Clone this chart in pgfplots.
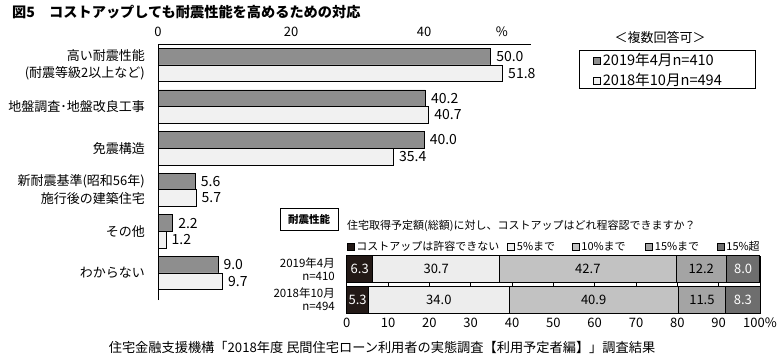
\documentclass[border=0pt]{standalone}
\usepackage{fontspec}
\setmainfont{Noto Sans CJK JP}
\usepackage{pgfplots}
\pgfplotsset{compat=1.18}
\definecolor{darkbar}{HTML}{8E8E8E}
\definecolor{lightbar}{HTML}{F1F1F1}
\definecolor{sA}{HTML}{231916}
\definecolor{sB}{HTML}{EDEDED}
\definecolor{sC}{HTML}{C2C2C2}
\definecolor{sD}{HTML}{A4A4A4}
\definecolor{sE}{HTML}{6E6E6E}
\begin{document}
\begin{tikzpicture}[x=1pt,y=1pt]
\useasboundingbox (0,0) rectangle (784,-358);
% title
\node[anchor=west, font=\bfseries\fontsize{14.2}{14.2}\selectfont, inner sep=0pt] at (12,-12) {図5　コストアップしても耐震性能を高めるための対応};
% main chart
\begin{axis}[
 at={(158pt,-300pt)}, anchor=south west,
 scale only axis, width=372.5pt, height=256pt,
 xmin=0, xmax=56, ymin=-5.65, ymax=0.505,
 axis line style={draw=none},
 clip=false,
 xtick={0,20,40}, xticklabels={0,20,40}, xticklabel pos=upper,
 major tick length=0pt,
 /pgf/number format/assume math mode=true,
 xticklabel style={anchor=base, yshift=7pt, inner sep=0pt, font=\fontsize{13}{13}\selectfont},
 ytick={0,-1,-2,-3,-4,-5},
 yticklabels={{高い耐震性能\\(耐震等級2以上など)},地盤調査･地盤改良工事,免震構造,{新耐震基準(昭和56年)\\施行後の建築住宅},その他,わからない},
 yticklabel style={align=right, anchor=east, inner sep=0pt, xshift=-13pt, font=\fontsize{13}{17.6}\selectfont},
 xbar, bar width=16.7pt, bar shift=0pt,
 point meta=x,
 nodes near coords={\pgfmathprintnumber[fixed,fixed zerofill,precision=1]{\pgfplotspointmeta}},
 nodes near coords style={anchor=west, xshift=2pt, font=\fontsize{14}{14}\selectfont},
 legend image code/.code={\draw[#1,draw=black,line width=0.6pt] (0pt,-3.5pt) rectangle (7pt,3.5pt);},
 legend style={at={(1.1678,0.8969)}, anchor=west, draw=none, fill=none, inner sep=0pt,
   font=\fontsize{14.6}{14.6}\selectfont, row sep=2pt},
 legend cell align=left,
]
\addplot[fill=darkbar, draw=black, line width=0.7pt] coordinates {
 (50.0,0.2) (40.2,-0.8) (40.0,-1.8) (5.6,-2.8) (2.2,-3.8) (9.0,-4.8)};
\addlegendentry{2019年4月n=410}
\addplot[fill=lightbar, draw=black, line width=0.7pt] coordinates {
 (51.8,-0.2) (40.7,-1.2) (35.4,-2.2) (5.7,-3.2) (1.2,-4.2) (9.7,-5.2)};
\addlegendentry{2018年10月n=494}
\draw[line width=0.7pt] (rel axis cs:0,0) -- (rel axis cs:0,1) -- (rel axis cs:1,1);
\node[anchor=base, inner sep=0pt, yshift=7pt, font=\fontsize{13}{13}\selectfont] at (axis cs:51.7,0.505) {\%};
\end{axis}
% legend frame and note
\draw[line width=0.7pt] (579,-50) rectangle (755,-88);
\node[font=\fontsize{13}{13}\selectfont, inner sep=0pt] at (660,-37) {＜複数回答可＞};
% inset header
\node[draw, line width=0.7pt, minimum width=58pt, minimum height=22pt, inner sep=0pt, font=\bfseries\fontsize{10.5}{10.5}\selectfont] at (309,-219) {耐震性能};
\node[anchor=west, inner sep=0pt, font=\fontsize{11}{11}\selectfont] at (347,-225.7) {住宅取得予定額(総額)に対し、コストアップはどれ程容認できますか？};
% inset stacked chart
\begin{axis}[
 at={(346.7pt,-313.3pt)}, anchor=south west,
 scale only axis, width=413.3pt, height=57.6pt,
 xmin=0, xmax=100, ymin=-0.445, ymax=1.43,
 xbar stacked, bar width=27pt,
 axis line style={draw=none}, clip=false,
 xtick={0,10,...,100}, xticklabels={0,10,20,30,40,50,60,70,80,90,100\%},
 xmajorgrids, grid style={black, line width=0.5pt},
 major tick length=0pt,
 xticklabel style={anchor=base, yshift=-14pt, inner sep=0pt, font=\fontsize{13}{13}\selectfont},
 ytick={0,1}, yticklabels={{2018年10月\\n=494},{2019年4月\\n=410}},
 yticklabel style={align=right, anchor=east, inner sep=0pt, xshift=-11.7pt, font=\fontsize{11.5}{13}\selectfont},
 legend image code/.code={\draw[#1,draw=black,line width=0.5pt] (0pt,-3.5pt) rectangle (7pt,3.5pt);},
 legend style={at={(0,1.156)}, anchor=west, draw=none, fill=none, inner sep=0pt,
   font=\fontsize{11}{11}\selectfont, legend columns=-1},
]
\addplot[fill=sA, draw=black, line width=0.7pt] coordinates {(6.3,1) (5.3,0)};
\addlegendentry{\makebox[149pt][l]{コストアップは許容できない}}
\addplot[fill=sB, draw=black, line width=0.7pt] coordinates {(30.7,1) (34.0,0)};
\addlegendentry{\makebox[53pt][l]{5\%まで}}
\addplot[fill=sC, draw=black, line width=0.7pt] coordinates {(42.7,1) (40.9,0)};
\addlegendentry{\makebox[62pt][l]{10\%まで}}
\addplot[fill=sD, draw=black, line width=0.7pt] coordinates {(12.2,1) (11.5,0)};
\addlegendentry{\makebox[60pt][l]{15\%まで}}
\addplot[fill=sE, draw=black, line width=0.7pt] coordinates {(8.0,1) (8.3,0)};
\addlegendentry{15\%超}
\draw[line width=0.7pt] (rel axis cs:0,0) -- (rel axis cs:1,0);
\end{axis}
% inset labels
\begin{axis}[
 at={(346.7pt,-313.3pt)}, anchor=south west,
 scale only axis, width=413.3pt, height=57.6pt,
 xmin=0, xmax=100, ymin=-0.445, ymax=1.43,
 hide axis, clip=false,
]
\addplot[draw=none, mark=none, nodes near coords, point meta=explicit symbolic,
  nodes near coords style={anchor=center, text=white, font=\fontsize{13}{13}\selectfont}]
  table[meta=lab] {
x y lab
3.15 1 6.3
95.9 1 8.0
2.65 0 5.3
95.85 0 8.3
};
\addplot[draw=none, mark=none, nodes near coords, point meta=explicit symbolic,
  nodes near coords style={anchor=center, text=black, font=\fontsize{13}{13}\selectfont}]
  table[meta=lab] {
x y lab
21.65 1 30.7
58.35 1 42.7
85.8 1 12.2
22.3 0 34.0
59.75 0 40.9
85.95 0 11.5
};
\end{axis}
% source
\node[font=\fontsize{13.2}{13.2}\selectfont, inner sep=0pt] at (382,-347) {住宅金融支援機構「2018年度 民間住宅ローン利用者の実態調査【利用予定者編】」調査結果};
\end{tikzpicture}
\end{document}
